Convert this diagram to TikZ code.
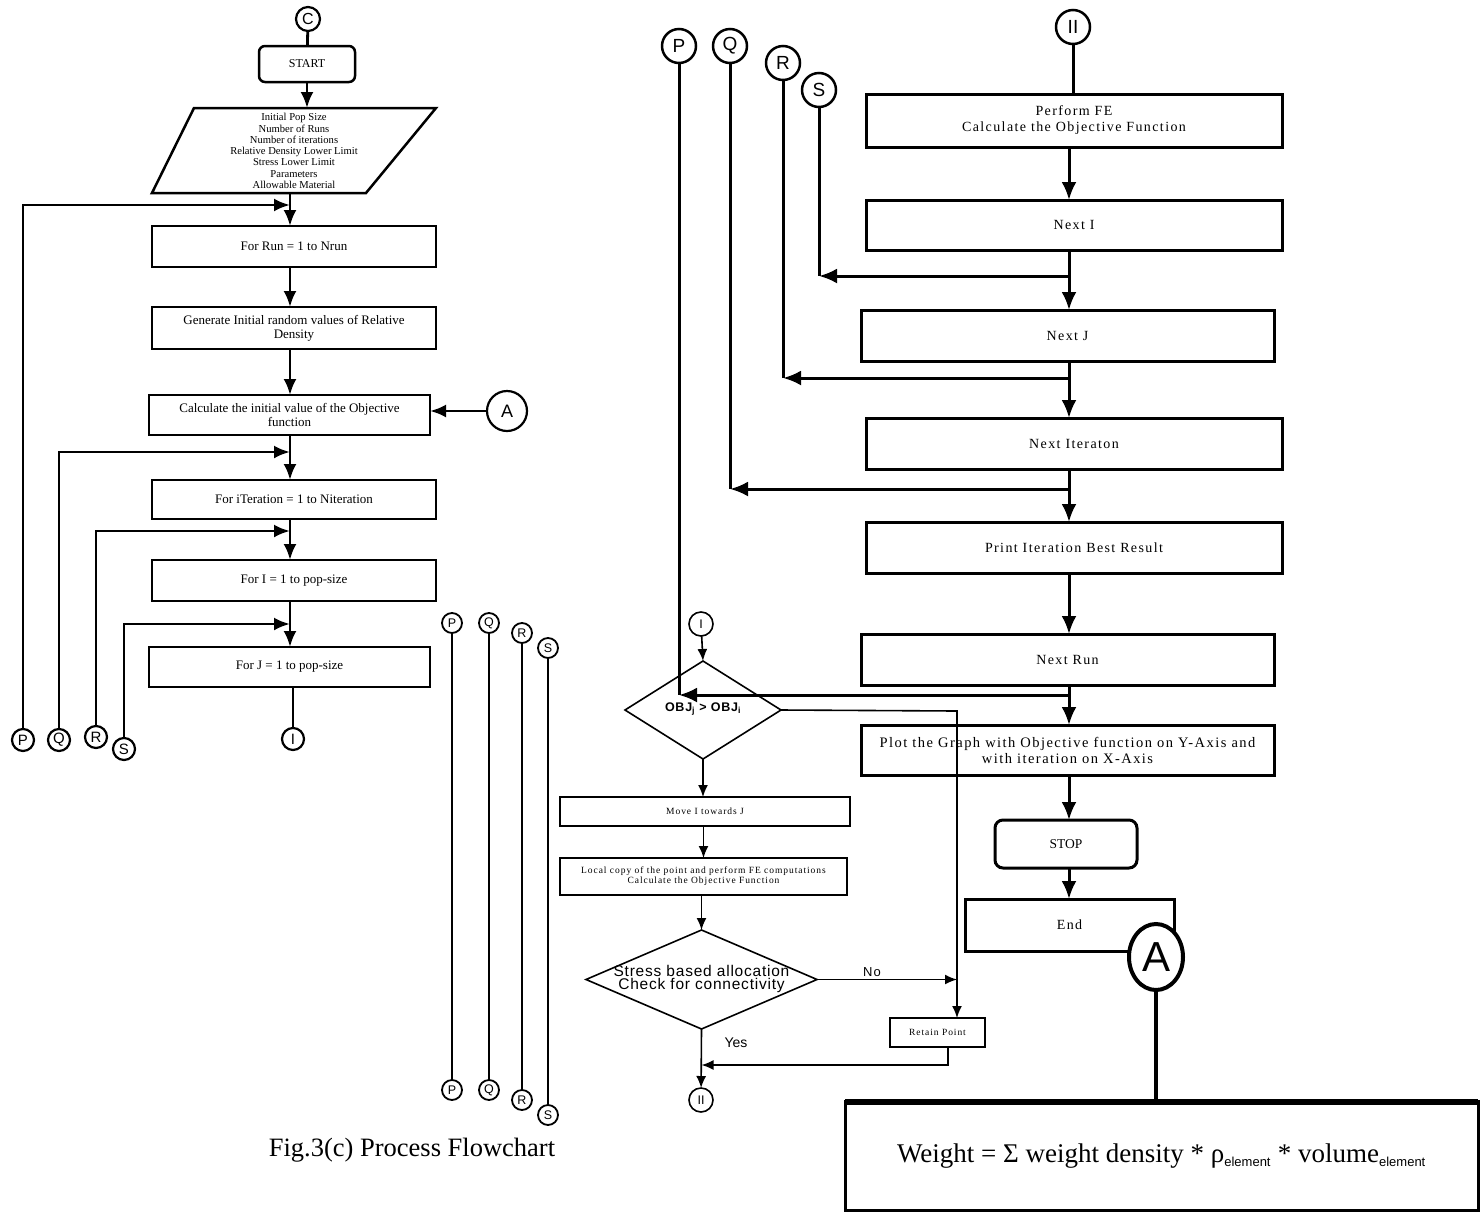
\documentclass[tikz,border=0pt]{standalone}
\usepackage{fontspec}
\setmainfont{Liberation Serif}
\newfontfamily\arial{Liberation Sans}
\usetikzlibrary{arrows.meta,shapes.geometric}
\begin{document}
\begin{tikzpicture}[x=1pt,y=-1pt,
  every node/.style={inner sep=0pt,outer sep=0pt},
  lbox/.style={draw,line width=2.5pt,rectangle,align=center,font=\fontsize{13}{14}\selectfont},
  rbox/.style={draw,line width=3pt,rectangle,align=center,font=\fontsize{14}{16}\selectfont\addfontfeature{LetterSpace=10}},
  mbox/.style={draw,line width=1.5pt,rectangle,align=center,font=\fontsize{9.5}{10}\selectfont\addfontfeature{LetterSpace=10}},
  lcon/.style={draw,circle,line width=2.2pt,minimum size=22pt,fill=white,font=\arial\fontsize{15}{15}\selectfont},
  mcon/.style={draw,circle,line width=1.8pt,minimum size=20pt,fill=white,font=\arial\fontsize{12.5}{12}\selectfont},
  rcon/.style={draw,circle,line width=2.5pt,minimum size=34pt,fill=white,font=\arial\fontsize{19}{19}\selectfont},
  arrL/.style={line width=2.8pt,-{Latex[length=16pt,width=13pt]}},
  lnL/.style={line width=2.8pt},
  arrR/.style={line width=3pt,-{Latex[length=18pt,width=15pt]}},
  lnR/.style={line width=3pt},
  arrM/.style={line width=1.6pt,-{Latex[length=12pt,width=10pt]}},
  lnM/.style={line width=1.6pt},
  vline/.style={line width=2pt}
]
\useasboundingbox (0,0) rectangle (1484,1211);

% ---------------- left flowchart ----------------
\coordinate (lcol) at (290,0);
\node[lcon,minimum size=24pt,font=\arial\fontsize{16}{16}\selectfont] (C) at (308,19) {C};
\node[lbox,rounded corners=6pt,minimum width=96,minimum height=36,font=\fontsize{12}{14}\selectfont] (start) at (307,64) {START};
\draw[lnL] (C) -- (start);

\draw[line width=2.5pt,line join=miter] (194,108) -- (436,108) -- (366,193) -- (152,193) -- cycle;
\node[align=center,font=\fontsize{10.6}{11.3}\selectfont] (params) at (294,151)
  {Initial Pop Size\\Number of Runs\\Number of iterations\\Relative Density Lower Limit\\Stress Lower Limit\\Parameters\\Allowable Material};
\coordinate (parTop) at (307,108);
\coordinate (parBot) at (290,193);
\draw[arrL] (start) -- (parTop);

\node[lbox,minimum width=284,minimum height=41] (run) at (294,246.5) {For Run = 1 to Nrun};
\node[lbox,minimum width=284,minimum height=42] (gen) at (294,328) {Generate Initial random values of Relative\\Density};
\node[lbox,minimum width=281,minimum height=40] (calc) at (289.5,415) {Calculate the initial value of the Objective\\function};
\node[lbox,minimum width=284,minimum height=39] (iter) at (294,499.5) {For iTeration = 1 to Niteration};
\node[lbox,minimum width=284,minimum height=41] (fori) at (294,580.5) {For I = 1 to pop-size};
\node[lbox,minimum width=281,minimum height=40] (forj) at (289.5,667) {For J = 1 to pop-size};

\draw[arrL] (parBot) -- (run.north -| lcol);
\draw[arrL] (run.south -| lcol) -- (gen.north -| lcol);
\draw[arrL] (gen.south -| lcol) -- (calc.north -| lcol);
\draw[arrL] (calc.south -| lcol) -- (iter.north -| lcol);
\draw[arrL] (iter.south -| lcol) -- (fori.north -| lcol);
\draw[arrL] (fori.south -| lcol) -- (forj.north -| lcol);

\node[lcon,minimum size=40pt,line width=2.2pt,font=\arial\fontsize{18}{18}\selectfont] (Al) at (507,411) {A};
\draw[arrL] (Al.west) -- (calc.east |- Al.west);

\node[lcon] (Il) at (293,739) {I};
\draw[lnL] (forj.south -| Il) -- (Il);

\coordinate (jP) at (290,205);
\coordinate (jQ) at (290,452);
\coordinate (jR) at (290,531);
\coordinate (jS) at (290,624);
\node[lcon] (Pl) at (23,740) {P};
\node[lcon] (Ql) at (59,740) {Q};
\node[lcon] (Rl) at (96,737) {R};
\node[lcon] (Sl) at (124,749) {S};
\draw[arrL] (Pl.north) |- (jP);
\draw[arrL] (Ql.north) |- (jQ);
\draw[arrL] (Rl.north) |- (jR);
\draw[arrL] (Sl.north) |- (jS);

% ---------------- middle connector lines ----------------
\node[mcon] (mP1) at (452,623) {P};
\node[mcon] (mP2) at (452,1090) {P};
\node[mcon] (mQ1) at (489,623) {Q};
\node[mcon] (mQ2) at (489,1090) {Q};
\node[mcon] (mR1) at (522,633) {R};
\node[mcon] (mR2) at (522,1100) {R};
\node[mcon] (mS1) at (548,648) {S};
\node[mcon] (mS2) at (548,1115) {S};
\draw[vline] (mP1) -- (mP2);
\draw[vline] (mQ1) -- (mQ2);
\draw[vline] (mR1) -- (mR2);
\draw[vline] (mS1) -- (mS2);

% ---------------- right column ----------------
\coordinate (rcol) at (1069,0);
\node[rcon] (P2) at (679,46) {P};
\node[rcon] (Q2) at (730,46) {Q};
\node[rcon] (R2) at (783,63) {R};
\node[rcon] (S2) at (819,90) {S};
\node[rcon] (II) at (1073,27) {II};

\node[rbox,minimum width=416,minimum height=53] (perf) at (1074,120.5) {Perform FE\\Calculate the Objective Function};
\node[rbox,minimum width=416,minimum height=50] (nexti) at (1074,225) {Next I};
\node[rbox,minimum width=413,minimum height=51] (nextj) at (1067.5,335.5) {Next J};
\node[rbox,minimum width=416,minimum height=51] (nextit) at (1074,443.5) {Next Iteraton};
\node[rbox,minimum width=416,minimum height=51] (print) at (1074,547.5) {Print Iteration Best Result};
\node[rbox,minimum width=413,minimum height=51] (nextrun) at (1067.5,659.5) {Next Run};
\node[rbox,minimum width=413,minimum height=50,font=\fontsize{14.5}{16}\selectfont\addfontfeature{LetterSpace=10}] (plot) at (1067.5,750) {Plot the Graph with Objective function on Y-Axis and\\with iteration on X-Axis};
\node[rbox,rounded corners=8pt,minimum width=142,minimum height=48,font=\fontsize{13.5}{16}\selectfont] (stop) at (1066,844) {STOP};
\node[rbox,minimum width=209,minimum height=52] (endb) at (1069.5,925) {End};

\draw[lnR] (II) -- (II.south |- perf.north);
\draw[arrR] (perf.south -| rcol) -- (nexti.north -| rcol);
\draw[arrR] (nexti.south -| rcol) -- (nextj.north -| rcol);
\draw[arrR] (nextj.south -| rcol) -- (nextit.north -| rcol);
\draw[arrR] (nextit.south -| rcol) -- (print.north -| rcol);
\draw[arrR] (print.south -| rcol) -- (nextrun.north -| rcol);
\draw[arrR] (nextrun.south -| rcol) -- (plot.north -| rcol);
\draw[arrR] (plot.south -| rcol) -- (stop.north -| rcol);
\draw[arrR] (stop.south -| rcol) -- (endb.north -| rcol);

\coordinate (kS) at (1069,276);
\coordinate (kR) at (1069,378);
\coordinate (kQ) at (1069,489);
\coordinate (kP) at (1069,695);
\draw[lnR] (S2) -- (S2.south |- kS);
\draw[arrR] (kS) -- (S2.south |- kS);
\draw[lnR] (R2) -- (R2.south |- kR);
\draw[arrR] (kR) -- (R2.south |- kR);
\draw[lnR] (Q2) -- (Q2.south |- kQ);
\draw[arrR] (kQ) -- (Q2.south |- kQ);
\draw[lnR] (P2) -- (P2.south |- kP);
\draw[arrR] (kP) -- (P2.south |- kP);

% ---------------- decision section ----------------
\node[mcon,minimum size=24pt,line width=1.6pt] (I2) at (701,624) {I};
\node[draw,diamond,line width=1.6pt,minimum width=156,minimum height=98] (d1) at (703,710) {};
\node[font=\arial\bfseries\fontsize{12.5}{12}\selectfont\addfontfeature{LetterSpace=6}] (d1t) at (703,709) {OBJ\textsubscript{j} > OBJ\textsubscript{i}};
\draw[arrM] (I2) -- (d1.north);

\node[mbox,minimum width=290,minimum height=29] (move) at (705,811.5) {Move I towards J};
\node[mbox,minimum width=287,minimum height=37] (local) at (703.5,876.5) {Local copy of the point and perform FE computations\\Calculate the Objective Function};
\node[draw,diamond,line width=1.6pt,minimum width=231,minimum height=99] (d2) at (701.5,979.5) {};
\node[align=center,font=\arial\fontsize{15.5}{13}\selectfont\addfontfeature{LetterSpace=5}] (d2t) at (701.5,979) {Stress based allocation\\Check for connectivity};
\node[mbox,minimum width=95,minimum height=29] (retain) at (937.5,1032.5) {Retain Point};
\node[mcon,minimum size=24pt,line width=1.6pt] (II2) at (701,1100) {II};

\draw[arrM] (d1.south) -- (move.north -| d1.south);
\draw[arrM] (move.south -| local) -- (local.north);
\draw[arrM] (local.south -| d2) -- (d2.north);
\coordinate (rc) at (957,711);
\draw[arrM] (d1.east) -- (rc) -- (rc |- retain.north);
\draw[arrM] (d2.east) -- (d2.east -| rc);
\node[font=\arial\fontsize{13}{13}\selectfont\addfontfeature{LetterSpace=10}] (nolab) at (872,972) {No};
\draw[arrM] (d2.south) -- (II2);
\node[font=\arial\fontsize{14}{14}\selectfont] (yeslab) at (736,1043) {Yes};
\coordinate (rb) at (948,1065);
\draw[arrM] (retain.south -| rb) -- (rb) -- (rb -| d2.south);

% ---------------- formula ----------------
\node[draw,line width=3pt,minimum width=633,minimum height=109,font=\fontsize{27}{30}\selectfont] (formula) at (1161.5,1156)
  {Weight = Σ weight density * ρ\textsubscript{\arial\fontsize{13}{13}\selectfont element} * volume\textsubscript{\arial\fontsize{13}{13}\selectfont element}};
\draw[line width=6pt] (formula.north west) -- (formula.north east);
\node[draw,ellipse,line width=4pt,fill=white,minimum width=54,minimum height=66,font=\arial\fontsize{42}{42}\selectfont] (A2) at (1156,957) {A};
\draw[line width=4pt] (A2) -- (A2 |- formula.north);

% ---------------- caption ----------------
\node[font=\fontsize{26.5}{30}\selectfont] (cap) at (412,1150) {Fig.3(c) Process Flowchart};
\end{tikzpicture}
\end{document}
